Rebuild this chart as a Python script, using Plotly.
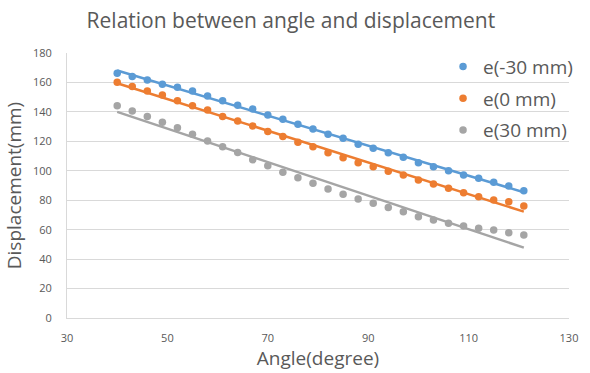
import numpy as np
import plotly.graph_objects as go

angle = [40, 43, 46, 49, 52, 55, 58, 61, 64, 67, 70, 73, 76, 79, 82, 85, 88, 91, 94, 97, 100, 103, 106, 109, 112, 115, 118, 121]
disp_m30 = [166.2, 164.0, 161.7, 158.7, 156.7, 154.2, 150.8, 147.6, 144.5, 142.0, 137.9, 135.0, 131.6, 128.4,
            124.8, 122.1, 118.0, 115.3, 112.2, 109.2, 105.5, 102.8, 100.1, 97.1, 94.9, 92.2, 89.7, 86.5]
disp_0 = [160.1, 157.2, 154.2, 151.5, 147.6, 144.2, 141.3, 136.8, 133.8, 130.5, 126.6, 123.2, 119.3, 116.4,
          112.3, 108.9, 105.5, 102.8, 99.7, 97.1, 93.8, 91.0, 88.1, 85.1, 82.4, 80.2, 79.0, 76.1]
disp_30 = [144.2, 140.6, 136.8, 132.9, 129.3, 124.8, 120.2, 116.4, 112.4, 107.5, 103.5, 99.0, 95.3, 91.5,
           87.6, 84.0, 80.8, 77.9, 75.0, 72.2, 68.8, 66.6, 64.3, 62.5, 60.9, 59.8, 57.9, 56.4]
series_names = ["e(-30 mm)", "e(0 mm)", "e(30 mm)"]
colors = ["#5B9BD5", "#ED7D31", "#A5A5A5"]
x_ticks = [30, 50, 70, 90, 110, 130]
y_ticks = [0, 20, 40, 60, 80, 100, 120, 140, 160, 180]

fig = go.Figure()
xs = np.array(angle, dtype=float)
for name, ys, c in zip(series_names, [disp_m30, disp_0, disp_30], colors):
    k, b = np.polyfit(xs, np.array(ys), 1)
    xl = np.array([xs.min(), xs.max()])
    fig.add_trace(go.Scatter(x=xl, y=k * xl + b, mode="lines",
                             line=dict(color=c, width=2.5), showlegend=False, hoverinfo="skip"))
for name, ys, c in zip(series_names, [disp_m30, disp_0, disp_30], colors):
    fig.add_trace(go.Scatter(x=angle, y=ys, mode="markers", name=name, legendgroup=name,
                             marker=dict(color=c, size=7.5)))

fig.update_layout(
    width=590, height=373,
    margin=dict(l=67, r=13, t=53, b=55),
    paper_bgcolor="white", plot_bgcolor="white",
    font=dict(family="Open Sans", color="#595959"),
    title=dict(text="Relation between angle and displacement", x=0.493, xanchor="center",
               y=0.944, yanchor="middle", font=dict(size=21, color="#595959")),
    legend=dict(x=1.018, xanchor="right", y=1.02, yanchor="top", bgcolor="rgba(0,0,0,0)",
                font=dict(size=19, color="#595959"), tracegroupgap=4, itemwidth=30),
    showlegend=True,
)
fig.update_xaxes(range=[30, 130], tickvals=x_ticks, ticktext=[str(v) for v in x_ticks],
                 showgrid=False, zeroline=False, showline=True, linecolor="#D9D9D9", linewidth=1,
                 ticks="", ticklabelstandoff=10, tickfont=dict(size=11, color="#595959"),
                 title=dict(text="Angle(degree)", font=dict(size=19, color="#595959"), standoff=2))
fig.update_yaxes(range=[0, 180], tickvals=y_ticks, ticktext=[str(v) for v in y_ticks],
                 showgrid=True, gridcolor="#D9D9D9", gridwidth=1, zeroline=False,
                 showline=True, linecolor="#D9D9D9", linewidth=1,
                 ticks="", ticklabelstandoff=12, tickfont=dict(size=11, color="#595959"),
                 title=dict(text="Displacement(mm)", font=dict(size=19, color="#595959"), standoff=6))

fig.write_html("out.html", config={"displayModeBar": False},
               post_script="document.body.style.margin='0';document.body.style.overflow='hidden';")
